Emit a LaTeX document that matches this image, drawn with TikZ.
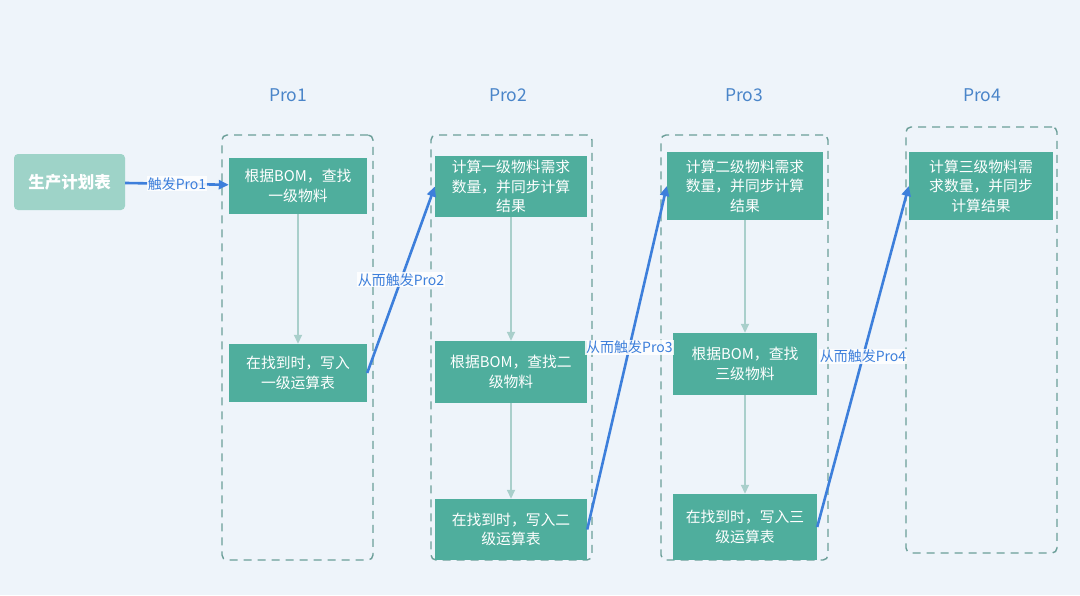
\documentclass[tikz,border=0pt]{standalone}
\usepackage{fontspec}
\setmainfont{Noto Sans CJK SC}
\usetikzlibrary{arrows.meta}
\definecolor{bgc}{HTML}{EEF4FA}
\definecolor{teal}{HTML}{4FAE9D}
\definecolor{lteal}{HTML}{9ED3C8}
\definecolor{blu}{HTML}{3D7FDB}
\definecolor{ttl}{HTML}{4A85C9}
\definecolor{larr}{HTML}{A9CFCB}
\definecolor{dsh}{HTML}{6B9E98}
\tikzset{
  stepbox/.style={fill=teal, text=white, inner sep=0pt, align=center,
    font=\fontsize{14.8}{19.5}\selectfont},
  frame/.style={draw=dsh, line width=1.4pt, dash pattern=on 8pt off 6pt, rounded corners=5pt, inner sep=0pt},
  title/.style={text=ttl, font=\fontsize{17.5}{20}\selectfont},
  flow/.style={draw=larr, line width=1.7pt, -{Triangle[length=9pt,width=8pt]}},
  trig/.style={draw=blu, line width=2.6pt, -{Triangle[length=10pt,width=9pt]}},
  tlabel/.style={fill=white, fill opacity=0.85, text opacity=1, text=blu, inner sep=1pt, font=\fontsize{14}{16}\selectfont},
}
\begin{document}
\begin{tikzpicture}[x=1pt,y=-1pt]
\useasboundingbox[fill=bgc] (0,0) rectangle (1080,595);
% containers
\node[frame, minimum width=151pt, minimum height=425pt] (c1) at (297.5,347.5) {};
\node[frame, minimum width=161pt, minimum height=425pt] (c2) at (511.5,347.5) {};
\node[frame, minimum width=167pt, minimum height=425pt] (c3) at (744.5,347.5) {};
\node[frame, minimum width=151pt, minimum height=426pt] (c4) at (981.5,340) {};
% titles
\node[title] (t1) at (288,95) {Pro1};
\node[title] (t2) at (508,95) {Pro2};
\node[title] (t3) at (744,95) {Pro3};
\node[title] (t4) at (982,95) {Pro4};
% plan
\node[fill=lteal, rounded corners=4pt, text=white, minimum width=111pt, minimum height=56pt, inner sep=0pt,
  font=\fontsize{16.5}{19}\selectfont\bfseries] (plan) at (69.5,182) {生产计划表};
% boxes
\node[stepbox, minimum width=138pt, minimum height=56pt] (b1a) at (298,186) {根据BOM，查找\\一级物料};
\node[stepbox, minimum width=138pt, minimum height=58pt] (b1b) at (298,373) {在找到时，写入\\一级运算表};
\node[stepbox, minimum width=152pt, minimum height=61pt] (b2a) at (511,186.5) {计算一级物料需求\\数量，并同步计算\\结果};
\node[stepbox, minimum width=152pt, minimum height=62pt] (b2b) at (511,372) {根据BOM，查找二\\级物料};
\node[stepbox, minimum width=152pt, minimum height=61pt] (b2c) at (511,529.5) {在找到时，写入二\\级运算表};
\node[stepbox, minimum width=156pt, minimum height=68pt] (b3a) at (745,186) {计算二级物料需求\\数量，并同步计算\\结果};
\node[stepbox, minimum width=144pt, minimum height=62pt] (b3b) at (745,364) {根据BOM，查找\\三级物料};
\node[stepbox, minimum width=144pt, minimum height=66pt] (b3c) at (745,527) {在找到时，写入三\\级运算表};
\node[stepbox, minimum width=144pt, minimum height=68pt] (b4a) at (981,186) {计算三级物料需\\求数量，并同步\\计算结果};
% inner flows
\draw[flow] (b1a) -- (b1b);
\draw[flow] (b2a) -- (b2b);
\draw[flow] (b2b) -- (b2c);
\draw[flow] (b3a) -- (b3b);
\draw[flow] (b3b) -- (b3c);
% triggers
\draw[trig] (plan) -- node[tlabel] {触发Pro1} (b1a);
\draw[trig] (b1b.east) -- node[tlabel] {从而触发Pro2} (b2a.west);
\draw[trig] (b2c.east) -- node[tlabel, pos=0.53] {从而触发Pro3} (b3a.west);
\draw[trig] (b3c.east) -- node[tlabel] {从而触发Pro4} (b4a.west);
\end{tikzpicture}
\end{document}
